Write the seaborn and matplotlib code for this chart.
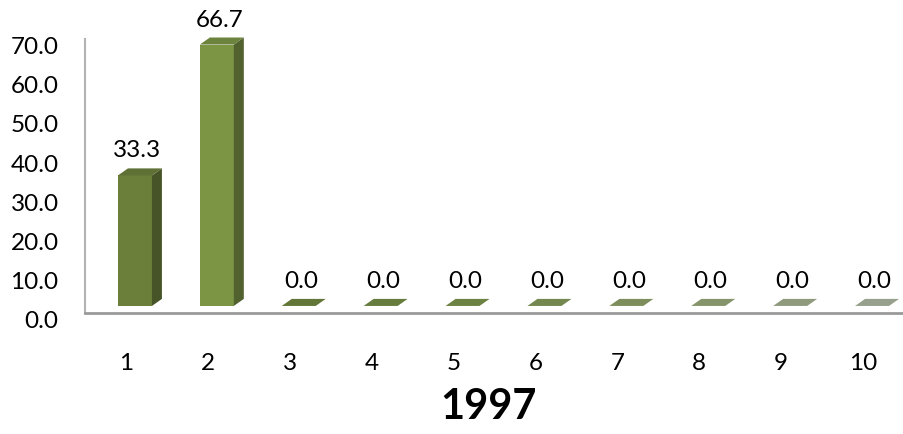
import numpy as np
import pandas as pd
import matplotlib
matplotlib.use("Agg")
import matplotlib.pyplot as plt
import matplotlib.transforms as mtrans
from matplotlib.patches import Polygon
import seaborn as sns

# data
categories = ["1", "2", "3", "4", "5", "6", "7", "8", "9", "10"]
values = [33.3, 66.7, 0.0, 0.0, 0.0, 0.0, 0.0, 0.0, 0.0, 0.0]
title = "1997"

# front-face colours, dark olive to pale grey-green
fronts = ["#6b7f3b", "#7b9545", "#6f873e", "#748d44", "#7b944b", "#83995a",
          "#8ea169", "#98a87b", "#a2af8d", "#abb6a0"]

sns.set_theme(style="white")
plt.rcParams['font.family'] = ['Lato', 'DejaVu Sans']

df = pd.DataFrame({"cat": categories, "val": values})

fig = plt.figure(figsize=(9.04, 4.34), dpi=100)
ax = fig.add_axes([0.094, 0.2788, 0.906, 0.6664])

sns.barplot(data=df, x="cat", y="val", hue="cat", palette=fronts, legend=False,
            width=0.415, saturation=1, ax=ax, linewidth=0)

ax.set_ylim(-1.8, 72)
ax.set_xlim(-0.5, 9.5)

dx = 0.122   # depth in x (category units)
dy = 1.8     # depth in y (data units)


def shade(c, f):
    r, g, b = matplotlib.colors.to_rgb(c)
    return (r * f, g * f, b * f)


for i, p in enumerate(ax.patches):
    p.set_x(p.get_x() + 0.11)
    x0 = p.get_x()
    w = p.get_width()
    h = p.get_height()
    col = fronts[i]
    side = Polygon([(x0 + w, 0), (x0 + w + dx, dy), (x0 + w + dx, h + dy), (x0 + w, h)],
                   closed=True, facecolor=shade(col, 0.66), edgecolor="none", zorder=3)
    top = Polygon([(x0, h), (x0 + w, h), (x0 + w + dx, h + dy), (x0 + dx, h + dy)],
                  closed=True, facecolor=shade(col, 0.88), edgecolor="none", zorder=3)
    ax.add_patch(side)
    ax.add_patch(top)
    p.set_zorder(3)
    ax.annotate(f"{values[i]:.1f}", (x0 + w / 2 + 0.03, h + dy), xytext=(0, 5),
                textcoords="offset points", ha="center", va="bottom",
                fontsize=17.5, color="black")

ax.set_xlabel("")
ax.set_ylabel("")
ax.set_yticks(np.arange(0, 71, 10))
ax.set_yticklabels([f"{v:.1f}" for v in np.arange(0, 71, 10)])
ax.tick_params(axis="y", length=0, pad=19, labelsize=17.5, labelcolor="black")
ax.tick_params(axis="x", length=0, pad=29, labelsize=17.5, labelcolor="black")

# tick labels sit lower, on the perspective wall
off = mtrans.ScaledTranslation(0, -14 / 100, fig.dpi_scale_trans)
for lab in ax.get_yticklabels():
    lab.set_transform(lab.get_transform() + off)

for s in ["top", "right"]:
    ax.spines[s].set_visible(False)
ax.spines["left"].set_color("#b3b3b3")
ax.spines["left"].set_linewidth(1.5)
ax.spines["left"].set_bounds(-1.8, 68)
ax.spines["bottom"].set_color("#9a9a9a")
ax.spines["bottom"].set_linewidth(2)

fig.text(488 / 904, 1 - 407 / 434, title, ha="center", va="center",
         fontsize=30, fontweight="bold", color="black")

fig.savefig("out.png", dpi=100)
